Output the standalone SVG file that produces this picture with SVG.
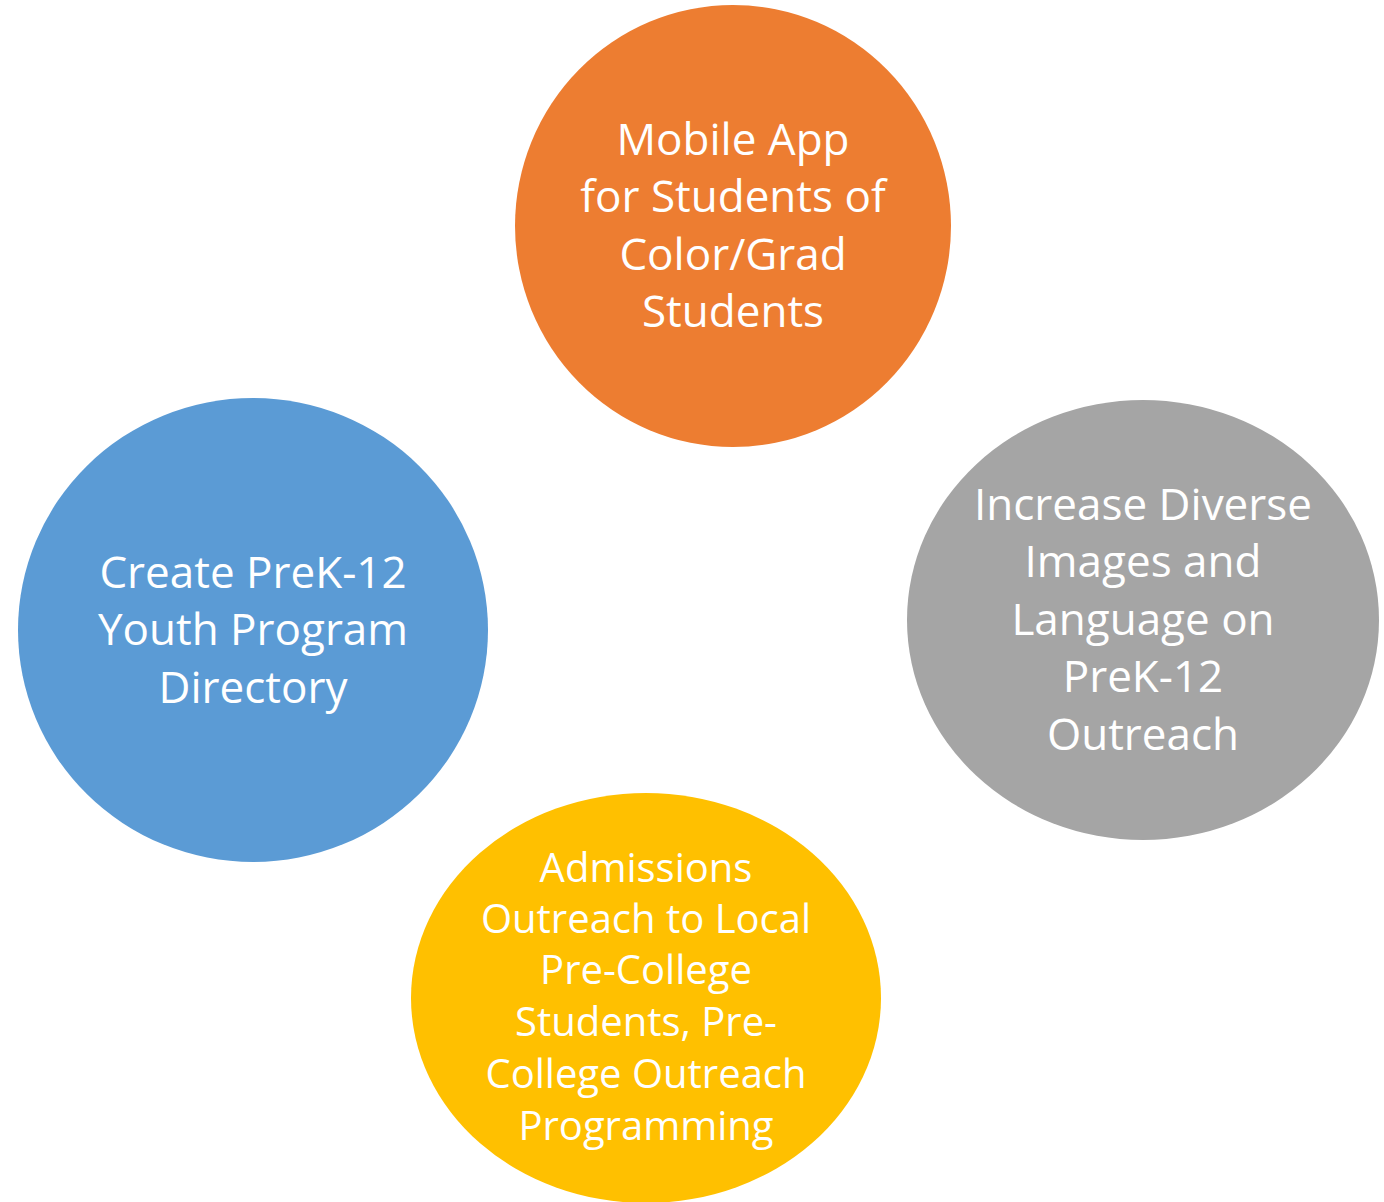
<svg xmlns="http://www.w3.org/2000/svg" width="1384" height="1202" viewBox="0 0 1384 1202">
<style>
.t{font-family:"Open Sans","Noto Sans",sans-serif;fill:#ffffff;text-anchor:middle}
.big{font-size:44px}
.sm{font-size:40px}
</style>
<rect width="1384" height="1202" fill="#ffffff"/>
<g id="connectors"></g>
<g id="node-mobile">
<ellipse cx="733" cy="226" rx="218" ry="221" fill="#ED7D31"/>
<text class="t big" x="733"><tspan x="733" y="155">Mobile App</tspan><tspan x="733" y="212">for Students of</tspan><tspan x="733" y="270">Color/Grad</tspan><tspan x="733" y="327">Students</tspan></text>
</g>
<g id="node-diverse">
<ellipse cx="1143" cy="620" rx="236" ry="220" fill="#A5A5A5"/>
<text class="t big" x="1143"><tspan x="1143" y="520">Increase Diverse</tspan><tspan x="1143" y="577">Images and</tspan><tspan x="1143" y="635">Language on</tspan><tspan x="1143" y="692">PreK-12</tspan><tspan x="1143" y="750">Outreach</tspan></text>
</g>
<g id="node-directory">
<ellipse cx="253" cy="630" rx="235" ry="232" fill="#5B9BD5"/>
<text class="t big" x="253"><tspan x="253" y="588">Create PreK-12</tspan><tspan x="253" y="645">Youth Program</tspan><tspan x="253" y="703">Directory</tspan></text>
</g>
<g id="node-admissions">
<ellipse cx="646" cy="998" rx="235" ry="205" fill="#FFC000"/>
<text class="t sm" x="646"><tspan x="646" y="882">Admissions</tspan><tspan x="646" y="933">Outreach to Local</tspan><tspan x="646" y="984">Pre-College</tspan><tspan x="646" y="1036">Students, Pre-</tspan><tspan x="646" y="1088">College Outreach</tspan><tspan x="646" y="1140">Programming</tspan></text>
</g>
</svg>
